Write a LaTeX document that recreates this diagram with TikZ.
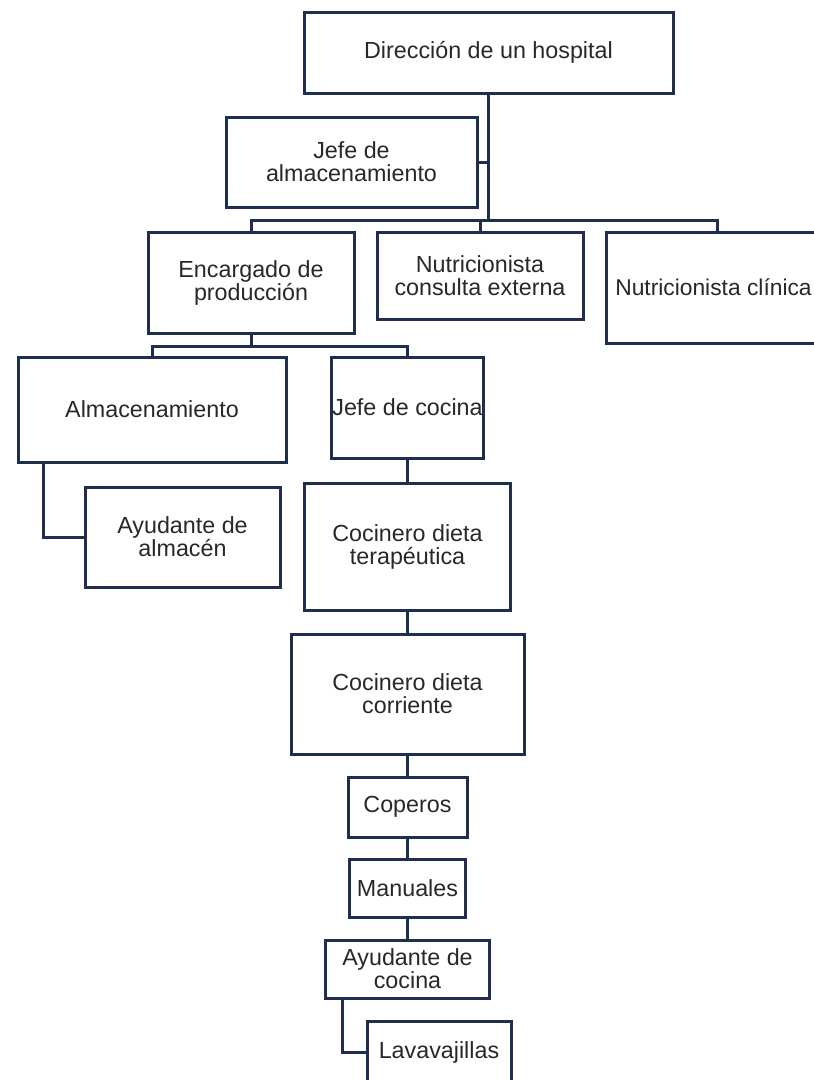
\documentclass[tikz,border=0pt]{standalone}
\usepackage{fontspec}
\setmainfont{Liberation Sans}
\definecolor{navy}{RGB}{31,45,78}
\definecolor{txt}{RGB}{40,40,40}
\begin{document}
\begin{tikzpicture}[x=1pt,y=-1pt,
  box/.style={draw=navy, line width=3pt, fill=white, rectangle, inner sep=0pt,
    align=center, text=txt, font=\fontsize{23.3}{23}\selectfont},
  conn/.style={draw=navy, line width=3pt, line join=miter}]
\useasboundingbox (0,0) rectangle (814,1080);
\fill[white] (0,0) rectangle (814,1080);
\clip (0,0) rectangle (814,1080);
% nodes
\node[box, minimum width=369pt, minimum height=81pt]  (dir)    at (488.5,52.5) {Dirección de un hospital};
\node[box, minimum width=251pt, minimum height=90pt]  (jalm)   at (351.5,162)  {Jefe de\\almacenamiento};
\node[box, minimum width=206pt, minimum height=101pt] (enc)    at (251,282.5)  {Encargado de\\producción};
\node[box, minimum width=206pt, minimum height=87pt]  (nce)    at (480,275.5)  {Nutricionista\\consulta externa};
\node[box, minimum width=222pt, minimum height=111pt, font=\fontsize{22.8}{23}\selectfont] (ncl) at (717,287.5) {Nutricionista clínica\kern7pt};
\node[box, minimum width=268pt, minimum height=105pt] (alm)    at (152,409.5)  {Almacenamiento};
\node[box, minimum width=152pt, minimum height=101pt] (jco)    at (407.5,407.5)  {Jefe de cocina};
\node[box, minimum width=195pt, minimum height=100pt] (ayalm)  at (182.5,537)  {Ayudante de\\almacén};
\node[box, minimum width=206pt, minimum height=127pt] (cdt)    at (407.5,546.5)  {Cocinero dieta\\terapéutica};
\node[box, minimum width=233pt, minimum height=120pt] (cdc)    at (407.5,694)  {Cocinero dieta\\corriente};
\node[box, minimum width=119pt, minimum height=60pt]  (cop)    at (407.5,807)  {Coperos};
\node[box, minimum width=116pt, minimum height=58pt]  (man)    at (407.5,888)    {Manuales};
\node[box, minimum width=164pt, minimum height=58pt]  (aycoc)  at (407.5,969)    {Ayudante de\\cocina};
\node[box, minimum width=144pt, minimum height=62pt]  (lav)    at (439,1052.5) {Lavavajillas};
% bus coordinates
\coordinate (bus) at (0,220);
\coordinate (bus2) at (0,346);
% connectors
\draw[conn] (dir.south) -- (dir.south |- bus);
\draw[conn] (jalm.east) -- (jalm.east -| dir.south);
\draw[conn] (enc.north) -- (enc.north |- bus) -- (ncl.north |- bus) -- (ncl.north);
\draw[conn] (nce.north) -- (nce.north |- bus);
\draw[conn] (enc.south) -- (enc.south |- bus2);
\draw[conn] (alm.north) -- (alm.north |- bus2) -- (jco.north |- bus2) -- (jco.north);
\draw[conn] ([xshift=27pt]alm.south west) |- (ayalm.west);
\draw[conn] (jco.south) -- (cdt.north);
\draw[conn] (cdt.south) -- (cdc.north);
\draw[conn] (cdc.south) -- (cop.north);
\draw[conn] (cop.south) -- (man.north);
\draw[conn] (man.south) -- (aycoc.north);
\draw[conn] ([xshift=18pt]aycoc.south west) |- (lav.west);
\end{tikzpicture}
\end{document}
